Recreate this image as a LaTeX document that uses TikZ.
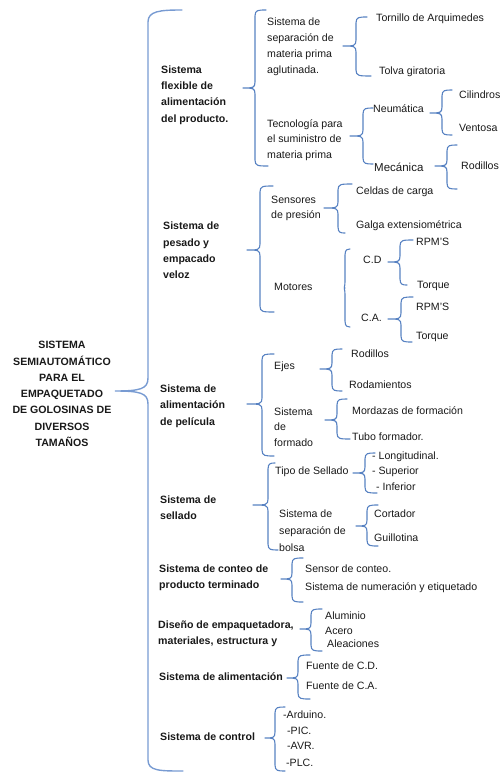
\documentclass[tikz,border=0pt]{standalone}
\usepackage{fontspec}
\setmainfont{Liberation Sans}
\definecolor{brc}{RGB}{88,130,194}
\definecolor{brcmain}{RGB}{120,155,210}
\definecolor{txt}{RGB}{25,25,25}
\tikzset{
  lab/.style={anchor=west,inner sep=0pt,align=left,text=txt,font=\fontsize{10.6}{16}\selectfont},
  boldlab/.style={lab,font=\fontsize{10.6}{16.3}\selectfont\bfseries},
  brline/.style={draw=brc,line width=1.1pt,line cap=round,line join=round},
}
% #1 tip x, #2 tip y, #3 spine x, #4 top y, #5 bottom y, #6 top arm x, #7 bottom arm x
\newcommand\brc[7]{%
  \draw[brline] (#6,#4) .. controls ({#3+3},#4) and (#3,#4) .. (#3,{#4+6})
    -- (#3,{#2-6}) .. controls (#3,#2) and ({#3-2},#2) .. (#1,#2)
    .. controls ({#3-2},#2) and (#3,#2) .. (#3,{#2+6})
    -- (#3,{#5-6}) .. controls (#3,#5) and ({#3+3},#5) .. (#7,#5);}
\begin{document}
\begin{tikzpicture}[x=1pt,y=-1pt]
\useasboundingbox (0,0) rectangle (500,773);
% main title
\node[boldlab,anchor=center,align=center] (root) at (62,394)
  {SISTEMA\\SEMIAUTOMÁTICO\\PARA EL\\EMPAQUETADO\\DE GOLOSINAS DE\\DIVERSOS\\TAMAÑOS};
% main brace
\draw[draw=brcmain,line width=1.4pt,line cap=round] (182,10) .. controls (160,10) and (148,11) .. (148,22)
  -- (148,378) .. controls (148,389) and (140,391) .. (115,391)
  .. controls (140,391) and (148,393) .. (148,404)
  -- (148,760) .. controls (148,771) and (160,771) .. (183,771);
% level 1
\node[boldlab] (a1) at (161,95) {Sistema\\flexible de\\alimentación\\del producto.};
\node[boldlab] (a2) at (163,250.5) {Sistema de\\pesado y\\empacado\\veloz};
\node[boldlab] (a3) at (160,406) {Sistema de\\alimentación\\de película};
\node[boldlab] (a4) at (160,507.5) {Sistema de\\sellado};
\node[boldlab] (a5) at (159,577.5) {Sistema de conteo de\\producto terminado};
\node[boldlab] (a6) at (158,633.5) {Diseño de empaquetadora,\\materiales, estructura y};
\node[boldlab] (a7) at (159,677) {Sistema de alimentación};
\node[boldlab] (a8) at (160,737) {Sistema de control};
% group 1
\brc{243}{88}{255}{10}{166}{266}{268}
\node[lab] (sep) at (267,47) {Sistema de\\separación de\\materia prima\\aglutinada.};
\node[lab,font=\fontsize{10.6}{15.5}\selectfont] (tec) at (267,140) {Tecnología para\\el suministro de\\materia prima};
\brc{343}{46}{356}{17}{76}{367}{371}
\node[lab] (tor) at (376,19) {Tornillo de Arquimedes};
\node[lab] (tol) at (379,72) {Tolva giratoria};
\brc{350}{136}{363}{108}{164}{373}{373}
\node[lab] (neu) at (373,109) {Neumática};
\node[lab,font=\fontsize{11.5}{14}\selectfont] (mec) at (374,167) {Mecánica};
\brc{430}{113}{442}{90}{135}{452}{452}
\node[lab] (cil) at (459,95) {Cilindros};
\node[lab] (ven) at (459,128) {Ventosa};
\brc{435}{166}{447}{145}{189}{457}{457}
\node[lab] (rod1) at (461,166) {Rodillos};
% group 2
\brc{247}{250}{260}{186}{312}{273}{274}
\node[lab,font=\fontsize{10.6}{15.5}\selectfont] (sen) at (271,208.5) {Sensores\\de presión};
\node[lab] (mot) at (274,287) {Motores};
\brc{324}{208}{338}{184}{233}{352}{345}
\node[lab] (cel) at (356,192) {Celdas de carga};
\node[lab] (gal) at (356,226) {Galga extensiométrica};
\brc{345}{288}{345}{249}{327}{350}{350}
\node[lab] (cd) at (363,260) {C.D};
\node[lab] (ca) at (361,318) {C.A.};
\brc{388}{262}{400}{240}{285}{413}{407}
\node[lab] (rpm1) at (416,242) {RPM'S};
\node[lab] (tq1) at (417,286) {Torque};
\brc{388}{319}{401}{297}{342}{413}{412}
\node[lab] (rpm2) at (416,307) {RPM'S};
\node[lab] (tq2) at (416,337) {Torque};
% group 3
\brc{247}{404}{262}{354}{456}{274}{274}
\node[lab] (eje) at (274,367) {Ejes};
\node[lab,font=\fontsize{10.6}{15.5}\selectfont] (frm) at (274,427) {Sistema\\de\\formado};
\brc{320}{369}{332}{349}{391}{342}{342}
\node[lab] (rod2) at (351,354) {Rodillos};
\node[lab] (roda) at (349,385) {Rodamientos};
\brc{325}{420}{337}{399}{439}{347}{350}
\node[lab] (mor) at (352,411) {Mordazas de formación};
\node[lab] (tub) at (352,437) {Tubo formador.};
% group 4
\brc{253}{505}{268}{463}{550}{275}{278}
\node[lab] (tip) at (275,472) {Tipo de Sellado};
\node[lab,font=\fontsize{10.6}{17}\selectfont] (sbo) at (279,531) {Sistema de\\separación de\\bolsa};
\brc{353}{473}{365}{453}{493}{375}{377}
\node[lab] (lon) at (372,457) {- Longitudinal.};
\node[lab] (sup) at (372,472) {- Superior};
\node[lab] (inf) at (376,487) {- Inferior};
\brc{356}{526}{367}{505}{546}{378}{378}
\node[lab] (cor) at (374,514) {Cortador};
\node[lab] (gui) at (374,538) {Guillotina};
% group 5
\brc{281}{579}{292}{558}{602}{303}{303}
\node[lab] (scn) at (305,569) {Sensor de conteo.};
\node[lab] (snu) at (305,588) {Sistema de numeración y etiquetado};
% group 6
\brc{300}{629}{311}{609}{651}{322}{322}
\node[lab] (alu) at (325,616) {Aluminio};
\node[lab] (ace) at (325,631) {Acero};
\node[lab] (ale) at (327,644) {Aleaciones};
% group 7
\brc{287}{678}{298}{655}{699}{310}{310}
\node[lab] (fcd) at (306,666) {Fuente de C.D.};
\node[lab] (fca) at (306,686) {Fuente de C.A.};
% group 8
\brc{265}{738}{275}{707}{771}{285}{285}
\node[lab] (ard) at (283,715) {-Arduino.};
\node[lab] (pic) at (287,731) {-PIC.};
\node[lab] (avr) at (287,746) {-AVR.};
\node[lab] (plc) at (286,763) {-PLC.};
\end{tikzpicture}
\end{document}
